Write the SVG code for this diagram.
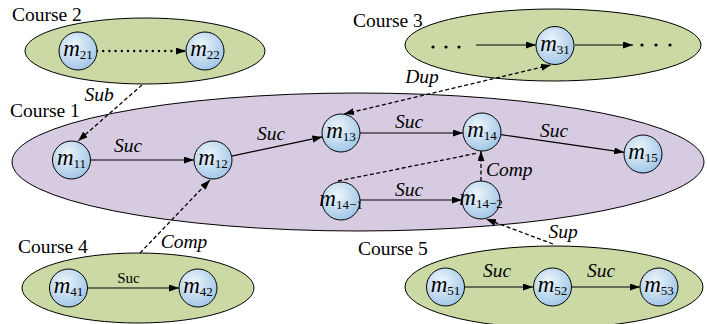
<svg xmlns="http://www.w3.org/2000/svg" width="707" height="324" viewBox="0 0 707 324">
<defs>
<radialGradient id="ng" cx="0.4" cy="0.35" r="0.7">
<stop offset="0" stop-color="#eef6fb"/>
<stop offset="1" stop-color="#9ec4e6"/>
</radialGradient>
<marker id="ah" markerUnits="userSpaceOnUse" markerWidth="10" markerHeight="8" refX="10" refY="3.5" orient="auto-start-reverse">
<path d="M0,0 L10,3.5 L0,7 z" fill="#000"/>
</marker>
<style>
.course-g{fill:#cbd9a5;stroke:#000;stroke-width:1}
.course-p{fill:#d6cbe0;stroke:#000;stroke-width:1}
.node{fill:url(#ng);stroke:#000;stroke-width:1}
text{font-family:'Liberation Serif','Times New Roman','DejaVu Serif',serif}
.lbl{font-size:19.5px;fill:#000}
.elbl{font-size:19.5px;font-style:italic;fill:#000}
.mt{font-size:23px;fill:#000}
.mt .m{font-style:italic}
.mt .s{font-size:13px}
.solid{stroke:#000;stroke-width:1.2;fill:none;marker-end:url(#ah)}
.dash{stroke:#000;stroke-width:1.3;fill:none;stroke-dasharray:4 2.5}
.dot{fill:#000}
</style>
</defs>
<g id="course1">
<ellipse class="course-p" cx="358" cy="162" rx="346" ry="69"/>
<text class="lbl" x="10" y="117">Course 1</text>
</g>
<g id="course2">
<ellipse class="course-g" cx="145" cy="51" rx="120" ry="33"/>
<text class="lbl" x="12" y="21">Course 2</text>
</g>
<g id="course3">
<ellipse class="course-g" cx="553" cy="45" rx="148" ry="36"/>
<text class="lbl" x="353" y="27">Course 3</text>
<circle class="dot" cx="433" cy="47" r="1.6"/>
<circle class="dot" cx="446" cy="47" r="1.6"/>
<circle class="dot" cx="459" cy="47" r="1.6"/>
<circle class="dot" cx="642" cy="45" r="1.6"/>
<circle class="dot" cx="656" cy="45" r="1.6"/>
<circle class="dot" cx="670" cy="45" r="1.6"/>
</g>
<g id="course4">
<ellipse class="course-g" cx="138" cy="288" rx="116" ry="35"/>
<text class="lbl" x="18" y="253">Course 4</text>
</g>
<g id="course5">
<ellipse class="course-g" cx="554" cy="287" rx="149" ry="41"/>
<text class="lbl" x="358" y="255">Course 5</text>
</g>
<g id="connectors">
<line class="solid" x1="91" y1="160" x2="194" y2="160"/>
<line class="solid" x1="231.6" y1="156.1" x2="322.4" y2="136.9"/>
<line class="solid" x1="360" y1="133" x2="463" y2="133"/>
<line class="solid" x1="500.8" y1="134.7" x2="624.2" y2="152.3"/>
<line class="solid" x1="360" y1="200" x2="462" y2="200"/>
<line class="dash" x1="481" y1="181" x2="481" y2="151" marker-end="url(#ah)"/>
<line class="dash" x1="338" y1="181" x2="478" y2="153"/>
<line class="dash" x1="344" y1="114" x2="551" y2="65" marker-start="url(#ah)" marker-end="url(#ah)"/>
<line class="dash" x1="142" y1="85" x2="78" y2="141" marker-end="url(#ah)"/>
<line class="dash" x1="140" y1="253" x2="210" y2="180" marker-end="url(#ah)"/>
<line class="dash" x1="553" y1="244" x2="486" y2="219" marker-end="url(#ah)"/>
<line x1="97" y1="51" x2="186" y2="51" stroke="#000" stroke-width="2.4" stroke-linecap="round" stroke-dasharray="0 6.2" marker-end="url(#ah)"/>
<line class="solid" x1="476" y1="45" x2="536" y2="45"/>
<line class="solid" x1="575" y1="45" x2="633" y2="45"/>
<line class="solid" x1="88" y1="288" x2="179" y2="288"/>
<line class="solid" x1="465" y1="287" x2="533" y2="287"/>
<line class="solid" x1="572" y1="287" x2="640" y2="287"/>
<text class="elbl" x="128" y="152" text-anchor="middle">Suc</text>
<text class="elbl" x="271" y="140" text-anchor="middle">Suc</text>
<text class="elbl" x="409" y="128" text-anchor="middle">Suc</text>
<text class="elbl" x="554" y="137" text-anchor="middle">Suc</text>
<text class="elbl" x="409" y="196" text-anchor="middle">Suc</text>
<text class="elbl" x="486" y="176">Comp</text>
<text class="elbl" x="99" y="101" text-anchor="middle">Sub</text>
<text class="elbl" x="422" y="83" text-anchor="middle">Dup</text>
<text class="elbl" x="184" y="248" text-anchor="middle">Comp</text>
<text class="elbl" x="563" y="238" text-anchor="middle">Sup</text>
<text class="elbl" x="497" y="277" text-anchor="middle">Suc</text>
<text class="elbl" x="601" y="277" text-anchor="middle">Suc</text>
<text x="128.5" y="283" text-anchor="middle" font-size="15">Suc</text>
</g>
<g id="m21"><circle class="node" cx="78" cy="51" r="19"/><text class="mt" x="78" y="56" text-anchor="middle"><tspan class="m">m</tspan><tspan class="s" dy="3">21</tspan></text></g>
<g id="m22"><circle class="node" cx="205" cy="51" r="19"/><text class="mt" x="205" y="56" text-anchor="middle"><tspan class="m">m</tspan><tspan class="s" dy="3">22</tspan></text></g>
<g id="m31"><circle class="node" cx="555" cy="45.5" r="19"/><text class="mt" x="555" y="50.5" text-anchor="middle"><tspan class="m">m</tspan><tspan class="s" dy="3">31</tspan></text></g>
<g id="m11"><circle class="node" cx="71.5" cy="160" r="19"/><text class="mt" x="71.5" y="165" text-anchor="middle"><tspan class="m">m</tspan><tspan class="s" dy="3">11</tspan></text></g>
<g id="m12"><circle class="node" cx="213" cy="160" r="19"/><text class="mt" x="213" y="165" text-anchor="middle"><tspan class="m">m</tspan><tspan class="s" dy="3">12</tspan></text></g>
<g id="m13"><circle class="node" cx="341" cy="133" r="19"/><text class="mt" x="341" y="138" text-anchor="middle"><tspan class="m">m</tspan><tspan class="s" dy="3">13</tspan></text></g>
<g id="m14"><circle class="node" cx="482" cy="132" r="19"/><text class="mt" x="482" y="137" text-anchor="middle"><tspan class="m">m</tspan><tspan class="s" dy="3">14</tspan></text></g>
<g id="m15"><circle class="node" cx="643" cy="154" r="19"/><text class="mt" x="643" y="159" text-anchor="middle"><tspan class="m">m</tspan><tspan class="s" dy="3">15</tspan></text></g>
<g id="m14-1"><circle class="node" cx="341" cy="201" r="19"/><text class="mt" x="341" y="206" text-anchor="middle"><tspan class="m">m</tspan><tspan class="s" dy="3">14−1</tspan></text></g>
<g id="m14-2"><circle class="node" cx="481" cy="200" r="19"/><text class="mt" x="481" y="205" text-anchor="middle"><tspan class="m">m</tspan><tspan class="s" dy="3">14−2</tspan></text></g>
<g id="m41"><circle class="node" cx="68.5" cy="288" r="19"/><text class="mt" x="68.5" y="293" text-anchor="middle"><tspan class="m">m</tspan><tspan class="s" dy="3">41</tspan></text></g>
<g id="m42"><circle class="node" cx="198" cy="288" r="19"/><text class="mt" x="198" y="293" text-anchor="middle"><tspan class="m">m</tspan><tspan class="s" dy="3">42</tspan></text></g>
<g id="m51"><circle class="node" cx="445.5" cy="287" r="19"/><text class="mt" x="445.5" y="292" text-anchor="middle"><tspan class="m">m</tspan><tspan class="s" dy="3">51</tspan></text></g>
<g id="m52"><circle class="node" cx="552.5" cy="287" r="19"/><text class="mt" x="552.5" y="292" text-anchor="middle"><tspan class="m">m</tspan><tspan class="s" dy="3">52</tspan></text></g>
<g id="m53"><circle class="node" cx="659" cy="287" r="19"/><text class="mt" x="659" y="292" text-anchor="middle"><tspan class="m">m</tspan><tspan class="s" dy="3">53</tspan></text></g>
</svg>
